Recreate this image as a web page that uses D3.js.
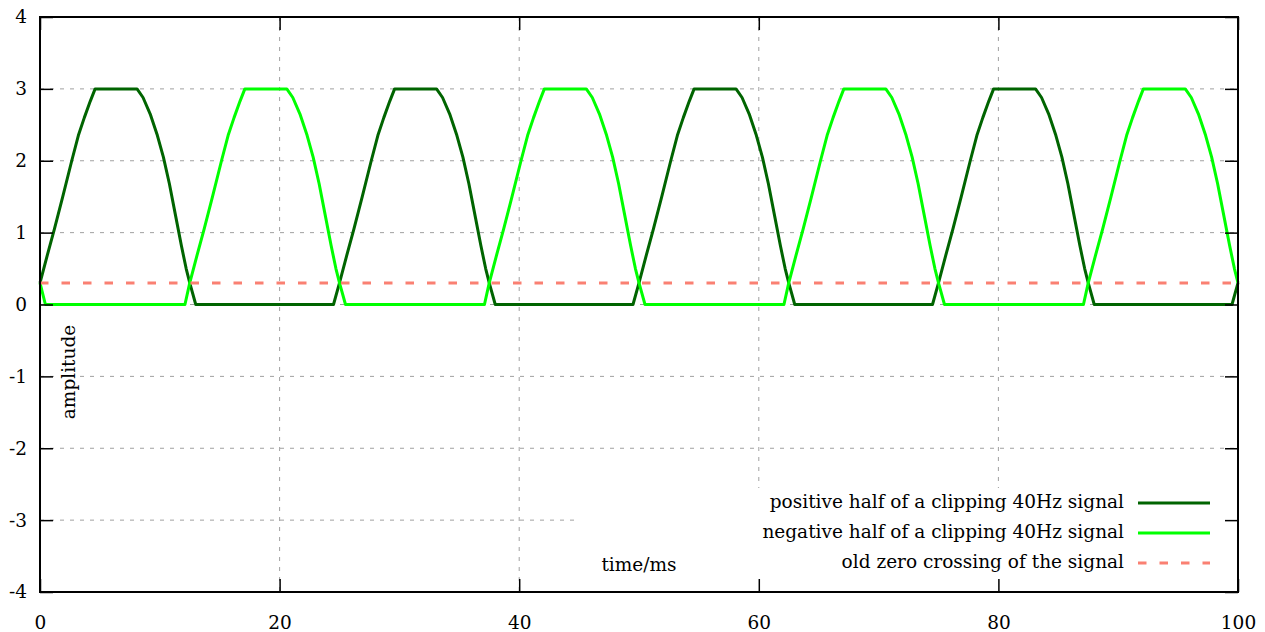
<!DOCTYPE html>
<html>
<head>
<meta charset="utf-8">
<script src="https://cdn.jsdelivr.net/npm/d3@7"></script>
<style>
  body { margin: 0; background: #fff; }
  text { font-family: "DejaVu Serif", serif; font-size: 18.5px; fill: #000; }
</style>
</head>
<body>
<div id="chart"></div>
<script>
// positive half of the clipped 40Hz signal (time in ms, amplitude)
const posTime = [
  0, 0.6, 1.2, 1.9, 2.65, 3.2, 3.7, 4.2, 4.6, 8.1, 8.6, 9.2, 9.8, 10.3, 10.8, 11.3, 11.8, 12.2, 12.5, 13.0,
  24.5,
  25, 25.6, 26.2, 26.9, 27.65, 28.2, 28.7, 29.2, 29.6, 33.1, 33.6, 34.2, 34.8, 35.3, 35.8, 36.3, 36.8, 37.2, 37.5, 38.0,
  49.5,
  50, 50.6, 51.2, 51.9, 52.65, 53.2, 53.7, 54.2, 54.6, 58.1, 58.6, 59.2, 59.8, 60.3, 60.8, 61.3, 61.8, 62.2, 62.5, 63.0,
  74.5,
  75, 75.6, 76.2, 76.9, 77.65, 78.2, 78.7, 79.2, 79.6, 83.1, 83.6, 84.2, 84.8, 85.3, 85.8, 86.3, 86.8, 87.2, 87.5, 88.0,
  99.5, 100];
const posAmp = [
  0.3, 0.68, 1.05, 1.5, 2.0, 2.35, 2.6, 2.83, 3.0, 3.0, 2.88, 2.65, 2.35, 2.05, 1.68, 1.25, 0.82, 0.5, 0.3, 0,
  0,
  0.3, 0.68, 1.05, 1.5, 2.0, 2.35, 2.6, 2.83, 3.0, 3.0, 2.88, 2.65, 2.35, 2.05, 1.68, 1.25, 0.82, 0.5, 0.3, 0,
  0,
  0.3, 0.68, 1.05, 1.5, 2.0, 2.35, 2.6, 2.83, 3.0, 3.0, 2.88, 2.65, 2.35, 2.05, 1.68, 1.25, 0.82, 0.5, 0.3, 0,
  0,
  0.3, 0.68, 1.05, 1.5, 2.0, 2.35, 2.6, 2.83, 3.0, 3.0, 2.88, 2.65, 2.35, 2.05, 1.68, 1.25, 0.82, 0.5, 0.3, 0,
  0, 0.3];

// negative half
const negTime = [
  0, 0.45,
  12.1, 12.5, 13.1, 13.7, 14.4, 15.15, 15.7, 16.2, 16.7, 17.1, 20.6, 21.1, 21.7, 22.3, 22.8, 23.3, 23.8, 24.3, 24.7, 25.0, 25.5,
  37.1, 37.5, 38.1, 38.7, 39.4, 40.15, 40.7, 41.2, 41.7, 42.1, 45.6, 46.1, 46.7, 47.3, 47.8, 48.3, 48.8, 49.3, 49.7, 50.0, 50.5,
  62.1, 62.5, 63.1, 63.7, 64.4, 65.15, 65.7, 66.2, 66.7, 67.1, 70.6, 71.1, 71.7, 72.3, 72.8, 73.3, 73.8, 74.3, 74.7, 75.0, 75.5,
  87.1, 87.5, 88.1, 88.7, 89.4, 90.15, 90.7, 91.2, 91.7, 92.1, 95.6, 96.1, 96.7, 97.3, 97.8, 98.3, 98.8, 99.3, 99.7, 100];
const negAmp = [
  0.3, 0,
  0, 0.3, 0.68, 1.05, 1.5, 2.0, 2.35, 2.6, 2.83, 3.0, 3.0, 2.88, 2.65, 2.35, 2.05, 1.68, 1.25, 0.82, 0.5, 0.3, 0,
  0, 0.3, 0.68, 1.05, 1.5, 2.0, 2.35, 2.6, 2.83, 3.0, 3.0, 2.88, 2.65, 2.35, 2.05, 1.68, 1.25, 0.82, 0.5, 0.3, 0,
  0, 0.3, 0.68, 1.05, 1.5, 2.0, 2.35, 2.6, 2.83, 3.0, 3.0, 2.88, 2.65, 2.35, 2.05, 1.68, 1.25, 0.82, 0.5, 0.3, 0,
  0, 0.3, 0.68, 1.05, 1.5, 2.0, 2.35, 2.6, 2.83, 3.0, 3.0, 2.88, 2.65, 2.35, 2.05, 1.68, 1.25, 0.82, 0.5, 0.3];

// old zero crossing
const zeroTime = [0, 100];
const zeroAmp = [0.3, 0.3];

const xTicks = [0, 20, 40, 60, 80, 100];
const yTicks = [-4, -3, -2, -1, 0, 1, 2, 3, 4];

const seriesNames = [
  "positive half of a clipping 40Hz signal",
  "negative half of a clipping 40Hz signal",
  "old zero crossing of the signal"
];
const seriesColors = ["#006400", "#00ff00", "#fa8072"];

const svgWidth = 1265;
const svgHeight = 632;
const margin = { top: 17, right: 27, bottom: 40, left: 40 };
const width = svgWidth - margin.left - margin.right;
const height = svgHeight - margin.top - margin.bottom;

const svg = d3.select("#chart").append("svg")
  .attr("width", svgWidth)
  .attr("height", svgHeight);

const chart = svg.append("g")
  .attr("transform", `translate(${margin.left},${margin.top})`);

const x = d3.scaleLinear().domain([0, 100]).range([0, width]);
const y = d3.scaleLinear().domain([-4, 4]).range([height, 0]);

// grid
chart.append("g").selectAll("line")
  .data(yTicks.filter(d => d > -4 && d < 4))
  .join("line")
  .attr("x1", 0).attr("x2", width)
  .attr("y1", d => y(d)).attr("y2", d => y(d))
  .attr("stroke", "#a0a0a0").attr("stroke-width", 1)
  .attr("stroke-dasharray", "4,6");
chart.append("g").selectAll("line")
  .data(xTicks.filter(d => d > 0 && d < 100))
  .join("line")
  .attr("x1", d => x(d)).attr("x2", d => x(d))
  .attr("y1", 0).attr("y2", height)
  .attr("stroke", "#a0a0a0").attr("stroke-width", 1)
  .attr("stroke-dasharray", "4,6");

// opaque boxes of the key and the y label
chart.append("rect")
  .attr("x", 540).attr("y", 471)
  .attr("width", width - 540).attr("height", height - 471)
  .attr("fill", "#fff");
chart.append("rect")
  .attr("x", 20).attr("y", 300)
  .attr("width", 20).attr("height", 110)
  .attr("fill", "#fff");

// lines
const line = d3.line()
  .x(d => x(d[0]))
  .y(d => y(d[1]));

const series = [
  d3.zip(posTime, posAmp),
  d3.zip(negTime, negAmp),
  d3.zip(zeroTime, zeroAmp)
];

series.forEach((s, i) => {
  chart.append("path")
    .datum(s)
    .attr("fill", "none")
    .attr("stroke", seriesColors[i])
    .attr("stroke-width", 3)
    .attr("stroke-linejoin", "round")
    .attr("stroke-dasharray", i === 2 ? "8.5,13" : null)
    .attr("d", line);
});

// axes
const axLeft = chart.append("g")
  .call(d3.axisLeft(y).tickValues(yTicks).tickSizeInner(-13).tickSizeOuter(0)
    .tickPadding(13).tickFormat(d => String(d)));
const axBottom = chart.append("g")
  .attr("transform", `translate(0,${height})`)
  .call(d3.axisBottom(x).tickValues(xTicks).tickSizeInner(-13).tickSizeOuter(0)
    .tickPadding(24).tickFormat(d => String(d)));
const axTop = chart.append("g")
  .call(d3.axisTop(x).tickValues(xTicks).tickSizeInner(-13).tickSizeOuter(0).tickFormat(""));
const axRight = chart.append("g")
  .attr("transform", `translate(${width},0)`)
  .call(d3.axisRight(y).tickValues(yTicks).tickSizeInner(-13).tickSizeOuter(0).tickFormat(""));

[axLeft, axBottom, axTop, axRight].forEach(a => {
  a.select(".domain").remove();
  a.selectAll("line").attr("stroke", "#000").attr("stroke-width", 1.5);
  a.selectAll("text").attr("font-family", "DejaVu Serif").attr("font-size", 18.5).attr("fill", "#000");
});

// border
chart.append("rect")
  .attr("width", width).attr("height", height)
  .attr("fill", "none").attr("stroke", "#000").attr("stroke-width", 2);

// axis labels
chart.append("text")
  .attr("x", 599).attr("y", 549)
  .attr("text-anchor", "middle")
  .attr("dominant-baseline", "middle")
  .text("time/ms");

chart.append("text")
  .attr("transform", `translate(30,355) rotate(-90)`)
  .attr("text-anchor", "middle")
  .attr("dominant-baseline", "middle")
  .text("amplitude");

// legend
const legend = chart.append("g")
  .attr("transform", `translate(${width},${486})`);

seriesNames.forEach((name, i) => {
  legend.append("text")
    .attr("x", -114).attr("y", i * 30)
    .attr("text-anchor", "end")
    .attr("dominant-baseline", "middle")
    .text(name);
  legend.append("line")
    .attr("x1", -100).attr("x2", -28)
    .attr("y1", i * 30).attr("y2", i * 30)
    .attr("stroke", seriesColors[i])
    .attr("stroke-width", 3)
    .attr("stroke-dasharray", i === 2 ? "8.5,13" : null);
});
</script>
</body>
</html>
